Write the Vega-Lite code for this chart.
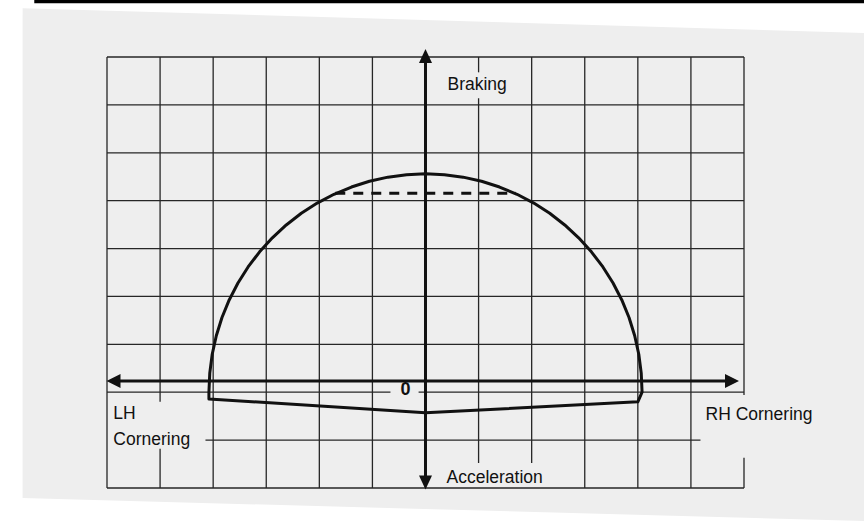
{
  "$schema": "https://vega.github.io/schema/vega-lite/v6.json",
  "width": 637,
  "height": 431,
  "autosize": {"type": "none"},
  "padding": {"left": 107, "top": 57, "right": 120, "bottom": 36},
  "background": "#ffffff",
  "config": {"view": {"stroke": null}},
  "datasets": {
    "paper": [
      {"x": -7.59, "top": 8.02, "bottom": -2.21},
      {"x": 8.27, "top": 7.5, "bottom": -2.69}
    ],
    "bar": [{"x": -7.37, "x2": 8.27, "y": 8.16}],
    "grid": [
      {"x": -6, "x2": -6, "y": 7, "y2": -2},
      {"x": -5, "x2": -5, "y": 7, "y2": -0.2},
      {"x": -5, "x2": -5, "y": -1.18, "y2": -2},
      {"x": -4, "x2": -4, "y": 7, "y2": -2},
      {"x": -3, "x2": -3, "y": 7, "y2": -2},
      {"x": -2, "x2": -2, "y": 7, "y2": -2},
      {"x": -1, "x2": -1, "y": 7, "y2": -2},
      {"x": 0, "x2": 0, "y": 7, "y2": -2},
      {"x": 1, "x2": 1, "y": 7, "y2": 6.68},
      {"x": 1, "x2": 1, "y": 6.14, "y2": -1.48},
      {"x": 2, "x2": 2, "y": 7, "y2": -1.48},
      {"x": 3, "x2": 3, "y": 7, "y2": -2},
      {"x": 4, "x2": 4, "y": 7, "y2": -2},
      {"x": 5, "x2": 5, "y": 7, "y2": -2},
      {"x": 6, "x2": 6, "y": 7, "y2": -0.06},
      {"x": 6, "x2": 6, "y": -1.37, "y2": -2},
      {"x": -6, "x2": 6, "y": 7, "y2": 7},
      {"x": -6, "x2": 6, "y": 6, "y2": 6},
      {"x": -6, "x2": 6, "y": 5, "y2": 5},
      {"x": -6, "x2": 6, "y": 4, "y2": 4},
      {"x": -6, "x2": 6, "y": 3, "y2": 3},
      {"x": -6, "x2": 6, "y": 2, "y2": 2},
      {"x": -6, "x2": 6, "y": 1, "y2": 1},
      {"x": -6, "x2": -0.66, "y": 0, "y2": 0},
      {"x": -0.13, "x2": 6, "y": 0, "y2": 0},
      {"x": -4.145, "x2": 5.18, "y": -1, "y2": -1},
      {"x": -6, "x2": 6, "y": -2, "y2": -2}
    ],
    "curve": [
      {"i": 0, "x": -4.08, "y": -0.14},
      {"i": 1, "x": -4.08, "y": 0},
      {"i": 2, "x": -4.064, "y": 0.398},
      {"i": 3, "x": -4.018, "y": 0.792},
      {"i": 4, "x": -3.941, "y": 1.18},
      {"i": 5, "x": -3.834, "y": 1.56},
      {"i": 6, "x": -3.698, "y": 1.927},
      {"i": 7, "x": -3.533, "y": 2.28},
      {"i": 8, "x": -3.342, "y": 2.616},
      {"i": 9, "x": -3.125, "y": 2.931},
      {"i": 10, "x": -2.885, "y": 3.224},
      {"i": 11, "x": -2.623, "y": 3.493},
      {"i": 12, "x": -2.34, "y": 3.736},
      {"i": 13, "x": -2.04, "y": 3.949},
      {"i": 14, "x": -1.724, "y": 4.133},
      {"i": 15, "x": -1.395, "y": 4.285},
      {"i": 16, "x": -1.056, "y": 4.405},
      {"i": 17, "x": -0.708, "y": 4.491},
      {"i": 18, "x": -0.356, "y": 4.543},
      {"i": 19, "x": 0, "y": 4.56},
      {"i": 20, "x": 0.356, "y": 4.543},
      {"i": 21, "x": 0.708, "y": 4.491},
      {"i": 22, "x": 1.056, "y": 4.405},
      {"i": 23, "x": 1.395, "y": 4.285},
      {"i": 24, "x": 1.724, "y": 4.133},
      {"i": 25, "x": 2.04, "y": 3.949},
      {"i": 26, "x": 2.34, "y": 3.736},
      {"i": 27, "x": 2.623, "y": 3.493},
      {"i": 28, "x": 2.885, "y": 3.224},
      {"i": 29, "x": 3.125, "y": 2.931},
      {"i": 30, "x": 3.342, "y": 2.616},
      {"i": 31, "x": 3.533, "y": 2.28},
      {"i": 32, "x": 3.698, "y": 1.927},
      {"i": 33, "x": 3.834, "y": 1.56},
      {"i": 34, "x": 3.941, "y": 1.18},
      {"i": 35, "x": 4.018, "y": 0.792},
      {"i": 36, "x": 4.064, "y": 0.398},
      {"i": 37, "x": 4.08, "y": 0},
      {"i": 38, "x": 4.0, "y": -0.2},
      {"i": 39, "x": 0, "y": -0.43},
      {"i": 40, "x": -4.08, "y": -0.14}
    ],
    "dash": [{"x": -1.7, "x2": 1.7, "y": 4.155}],
    "axes": [
      {"x": 0, "x2": 0, "y": 7.02, "y2": -1.885},
      {"x": -5.878, "x2": 5.774, "y": 0.234, "y2": 0.234}
    ],
    "arrows": [
      {"x": 0, "y": 7.02, "dir": "up"},
      {"x": 0, "y": -1.885, "dir": "down"},
      {"x": -5.878, "y": 0.234, "dir": "left"},
      {"x": 5.774, "y": 0.234, "dir": "right"}
    ],
    "labels": [
      {"label": "Braking", "x": 0.414, "y": 6.41},
      {"label": "LH", "x": -5.88, "y": -0.455},
      {"label": "Cornering", "x": -5.88, "y": -1.0},
      {"label": "RH Cornering", "x": 5.275, "y": -0.48},
      {"label": "Acceleration", "x": 0.396, "y": -1.79}
    ],
    "zero": [{"label": "0", "x": -0.377, "y": 0.046}]
  },
  "layer": [
    {
      "data": {"name": "paper"},
      "mark": {"type": "area", "color": "#eeeeee", "clip": false},
      "encoding": {
        "x": {"field": "x", "type": "quantitative", "scale": {"domain": [-6, 6], "nice": false, "zero": false}, "axis": null},
        "y": {"field": "top", "type": "quantitative", "scale": {"domain": [-2, 7], "nice": false, "zero": false}, "axis": null},
        "y2": {"field": "bottom"}
      }
    },
    {
      "data": {"name": "bar"},
      "mark": {"type": "rule", "color": "#000000", "strokeWidth": 3.5},
      "encoding": {
        "x": {"field": "x", "type": "quantitative"},
        "x2": {"field": "x2"},
        "y": {"field": "y", "type": "quantitative"}
      }
    },
    {
      "data": {"name": "grid"},
      "mark": {"type": "rule", "color": "#262626", "strokeWidth": 1.3},
      "encoding": {
        "x": {"field": "x", "type": "quantitative"},
        "x2": {"field": "x2"},
        "y": {"field": "y", "type": "quantitative"},
        "y2": {"field": "y2"}
      }
    },
    {
      "data": {"name": "curve"},
      "mark": {"type": "line", "color": "#111111", "strokeWidth": 3, "strokeJoin": "round", "strokeCap": "round"},
      "encoding": {
        "x": {"field": "x", "type": "quantitative"},
        "y": {"field": "y", "type": "quantitative"},
        "order": {"field": "i", "type": "quantitative"}
      }
    },
    {
      "data": {"name": "dash"},
      "mark": {"type": "rule", "color": "#111111", "strokeWidth": 3, "strokeDash": [10, 8]},
      "encoding": {
        "x": {"field": "x", "type": "quantitative"},
        "x2": {"field": "x2"},
        "y": {"field": "y", "type": "quantitative"}
      }
    },
    {
      "data": {"name": "axes"},
      "mark": {"type": "rule", "color": "#111111", "strokeWidth": 3},
      "encoding": {
        "x": {"field": "x", "type": "quantitative"},
        "x2": {"field": "x2"},
        "y": {"field": "y", "type": "quantitative"},
        "y2": {"field": "y2"}
      }
    },
    {
      "data": {"name": "arrows"},
      "mark": {"type": "point", "filled": true, "color": "#111111", "opacity": 1, "size": 196, "strokeWidth": 0},
      "encoding": {
        "x": {"field": "x", "type": "quantitative"},
        "y": {"field": "y", "type": "quantitative"},
        "shape": {
          "field": "dir",
          "type": "nominal",
          "legend": null,
          "scale": {
            "domain": ["up", "down", "left", "right"],
            "range": ["M0,-1L0.93,1L-0.93,1Z", "M0,1L0.93,-1L-0.93,-1Z", "M-1,0L1,-1L1,1Z", "M1,0L-1,-1L-1,1Z"]
          }
        }
      }
    },
    {
      "data": {"name": "labels"},
      "mark": {"type": "text", "font": "Liberation Sans", "fontSize": 17.5, "color": "#111111", "align": "left", "baseline": "middle"},
      "encoding": {
        "x": {"field": "x", "type": "quantitative"},
        "y": {"field": "y", "type": "quantitative"},
        "text": {"field": "label", "type": "nominal"}
      }
    },
    {
      "data": {"name": "zero"},
      "mark": {"type": "text", "font": "Liberation Sans", "fontSize": 18, "fontWeight": "bold", "color": "#111111", "align": "center", "baseline": "middle"},
      "encoding": {
        "x": {"field": "x", "type": "quantitative"},
        "y": {"field": "y", "type": "quantitative"},
        "text": {"field": "label", "type": "nominal"}
      }
    }
  ]
}
